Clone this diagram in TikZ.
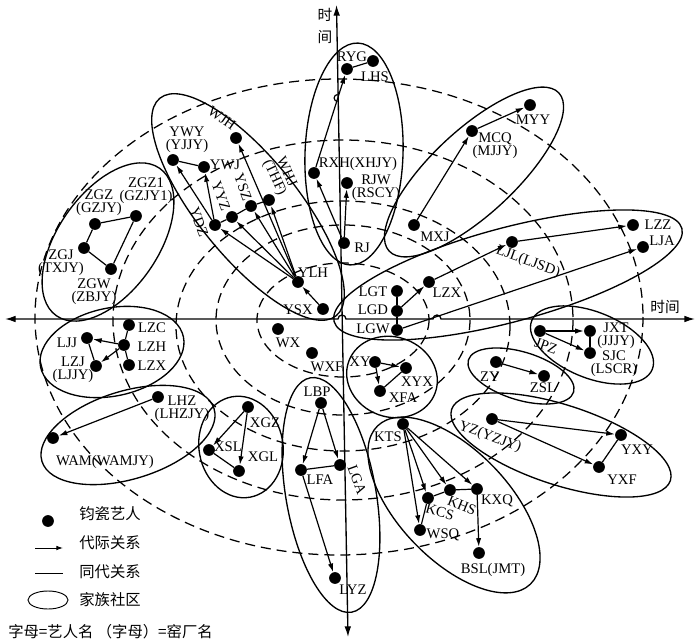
\documentclass[tikz,border=0pt]{standalone}
\usepackage{fontspec}
\setmainfont{Liberation Serif}
\newfontfamily\cjk{Noto Sans CJK SC}
\usetikzlibrary{arrows.meta,calc,shapes.geometric}
\begin{document}
\begin{tikzpicture}[x=0.75pt,y=-0.75pt,
 dot/.style={circle,fill=black,inner sep=0pt,minimum size=8.8pt},
 lbl/.style={inner sep=0pt,font=\fontsize{11}{9.8}\selectfont,align=center},
 zh/.style={inner sep=0pt,font=\cjk\fontsize{11.5}{13}\selectfont},
 arr/.style={line width=0.9pt,-{Latex[length=6.5pt,width=4pt]}},
 gen/.style={line width=0.9pt},
 fam/.style={line width=1pt},
 ring/.style={line width=0.95pt,dash pattern=on 7.5pt off 4.5pt},
 axis/.style={line width=1pt,{Latex[length=8pt,width=5pt]}-{Latex[length=8pt,width=5pt]}}]
\useasboundingbox (0,0) rectangle (700,642);

% dashed rings
\draw[ring] (343,320) ellipse [x radius=86,y radius=57];
\draw[ring] (343,320) ellipse [x radius=127,y radius=95];
\draw[ring] (343,326) ellipse [x radius=167,y radius=125];
\draw[ring] (343,320) ellipse [x radius=230,y radius=180];
\draw[ring] (339,317) ellipse [x radius=304,y radius=238];

% axes
\coordinate (hl) at (5,319); \coordinate (hr) at (695,319);
\coordinate (vt) at (336.5,5); \coordinate (vb) at (348,637);
\draw[axis] (hl) -- (338,319) arc[start angle=180,end angle=360,radius=4] -- (433,319) arc[start angle=180,end angle=360,radius=4] -- (hr);
\draw[axis] (vb) -- (vt);
\node[zh,font=\cjk\fontsize{11}{16}\selectfont,align=center] (vlab) at (325,26) {时\\间};
\node[zh,font=\cjk\fontsize{11}{13}\selectfont] (hlab) at (665,307) {时间};

% family ellipses
\draw[fam,rotate around={-2:(354,154)}] (354,154) ellipse [x radius=49,y radius=111];
\draw[fam,rotate around={-51:(248,207)}] (248,207) ellipse [x radius=140,y radius=50];
\draw[fam,rotate around={55:(108,242)}] (108,242) ellipse [x radius=90,y radius=50];
\draw[fam,rotate around={43:(474,172)}] (474,172) ellipse [x radius=116,y radius=42];
\draw[fam,rotate around={15:(508,275)}] (508,275) ellipse [x radius=180,y radius=47];
\draw[fam,rotate around={12:(112,352)}] (112,352) ellipse [x radius=73,y radius=44];
\draw[fam,rotate around={17:(128,435)}] (128,435) ellipse [x radius=90,y radius=44];
\draw[fam,rotate around={10:(241,447)}] (241,447) ellipse [x radius=42,y radius=51];
\draw[fam,rotate around={10:(331,495)}] (331,495) ellipse [x radius=45,y radius=119];
\draw[fam,rotate around={-20:(392,377)}] (392,377) ellipse [x radius=46,y radius=40];
\draw[fam,rotate around={-46:(454,505)}] (454,505) ellipse [x radius=110,y radius=55];
\draw[fam,rotate around={-18:(561,445)}] (561,445) ellipse [x radius=115,y radius=40];
\draw[fam,rotate around={-17:(521,376)}] (521,376) ellipse [x radius=55,y radius=24];
\draw[fam,rotate around={-22:(592,345)}] (592,345) ellipse [x radius=65,y radius=33];

% artists
\foreach \n/\x/\y in {RYG/347/69,LHS/373/61,RXH/314/173,RJW/347/183,RJ/344/243,
 WJH/236/138,YWY/173/160,YWJ/204/167,YDZ/215/225,YYZ/232/217,YSZ/251/206,WHJ/269/200,YLH/298/282,YSX/323/309,
 ZGZa/136/216,ZGZ/95/224,ZGJ/84/248,ZGW/111/269,
 MYY/530/105,MCQ/472/131,MXJ/414/225,
 LZZ/633/225,LJA/643/247,LJL/512/242,LZXb/429/282,LGT/397/291,LGD/397/311,LGW/397/330,
 LZC/129/325,LZH/124/345,LZX/129/365,LJJ/87/338,LZJ/96/366,
 WX/278/329,WXF/312/353,XY/375/362,XYX/406/368,XFA/380/391,
 JPZ/540/331,JXT/590/331,SJC/590/353,ZY/496/362,ZSL/544/376,
 YZ/492/419,YXY/621/435,YXF/599/467,LHZ/158/397,WAM/53/438,
 XGZ/248/407,XSL/209/450,XGL/239/471,
 LBP/321/403,LGA/340/465,LFA/301/470,LYZ/335/578,
 KTS/403/424,KCS/428/498,KHS/450/490,KXQ/477/489,WSQ/420/530,BSL/479/553}
 {\node[dot] (\n) at (\x,\y) {};}

% labels
\node[lbl] (tRYG) at (352,57) {RYG};
\node[lbl] (tLHS) at (375,77) {LHS};
\node[lbl] (tRXH) at (358,164) {RXH(XHJY)};
\node[lbl] (tRJW) at (376,188) {RJW\\(RSCY)};
\node[lbl] (tRJ) at (362,248) {RJ};
\node[lbl,rotate=-35] (tWJH) at (222,118) {WJH};
\node[lbl] (tYWY) at (187,140) {YWY\\(YJJY)};
\node[lbl] (tYWJ) at (225,165) {YWJ};
\node[lbl,rotate=-70] (tYDZ) at (199,222) {YDZ};
\node[lbl,rotate=-70] (tYYZ) at (221,196) {YYZ};
\node[lbl,rotate=-70] (tYSZ) at (243,187) {YSZ};
\node[lbl,rotate=-65] (tWHJ) at (280,175) {WHJ\\(THF)};
\node[lbl] (tYLH) at (313,273) {YLH};
\node[lbl] (tYSX) at (298,310) {YSX};
\node[lbl] (tZGZa) at (146,191) {ZGZ1\\(GZJY1)};
\node[lbl] (tZGZ) at (99,203) {ZGZ\\(GZJY)};
\node[lbl] (tZGJ) at (61,263) {ZGJ\\(TXJY)};
\node[lbl] (tZGW) at (94,292) {ZGW\\(ZBJY)};
\node[lbl] (tMYY) at (533,120) {MYY};
\node[lbl] (tMCQ) at (495,146) {MCQ\\(MJJY)};
\node[lbl] (tMXJ) at (435,237) {MXJ};
\node[lbl] (tLZZ) at (658,225) {LZZ};
\node[lbl] (tLJA) at (662,241) {LJA};
\node[lbl,rotate=-20] (tLJL) at (528,262) {LJL(LJSD)};
\node[lbl] (tLZXb) at (447,293) {LZX};
\node[lbl] (tLGT) at (373,292) {LGT};
\node[lbl] (tLGD) at (373,310) {LGD};
\node[lbl] (tLGW) at (373,329) {LGW};
\node[lbl] (tLZC) at (152,328) {LZC};
\node[lbl] (tLZH) at (152,347) {LZH};
\node[lbl] (tLZX) at (152,366) {LZX};
\node[lbl] (tLJJ) at (67,343) {LJJ};
\node[lbl] (tLZJ) at (73,370) {LZJ\\(LJJY)};
\node[lbl] (tWX) at (288,343) {WX};
\node[lbl] (tWXF) at (327,367) {WXF};
\node[lbl] (tXY) at (360,362) {XY};
\node[lbl] (tXYX) at (417,382) {XYX};
\node[lbl] (tXFA) at (403,398) {XFA};
\node[lbl,rotate=-20] (tJPZ) at (546,346) {JPZ};
\node[lbl] (tJXT) at (616,336) {JXT\\(JJJY)};
\node[lbl] (tSJC) at (614,364) {SJC\\(LSCR)};
\node[lbl] (tZY) at (490,377) {ZY};
\node[lbl] (tZSL) at (543,388) {ZSL};
\node[lbl,rotate=-20] (tYZ) at (490,437) {YZ(YZJY)};
\node[lbl] (tYXY) at (637,450) {YXY};
\node[lbl] (tYXF) at (622,480) {YXF};
\node[lbl] (tLHZ) at (182,409) {LHZ\\(LHZJY)};
\node[lbl] (tWAM) at (105,462) {WAM(WAMJY)};
\node[lbl] (tXGZ) at (265,423) {XGZ};
\node[lbl] (tXSL) at (228,447) {XSL};
\node[lbl] (tXGL) at (263,457) {XGL};
\node[lbl] (tLBP) at (317,392) {LBP};
\node[lbl,rotate=-70] (tLGA) at (357,480) {LGA};
\node[lbl] (tLFA) at (320,480) {LFA};
\node[lbl] (tLYZ) at (353,590) {LYZ};
\node[lbl] (tKTS) at (388,437) {KTS};
\node[lbl,rotate=-15] (tKCS) at (440,512) {KCS};
\node[lbl,rotate=-22] (tKHS) at (462,506) {KHS};
\node[lbl] (tKXQ) at (497,501) {KXQ};
\node[lbl] (tWSQ) at (443,535) {WSQ};
\node[lbl] (tBSL) at (493,570) {BSL(JMT)};

% intergenerational relations
\coordinate (hop1) at (337.6,98);
\draw[arr] (RXH) -- (RYG);
\draw[gen] (hop1) ++(0,-3.5) arc[start angle=270,end angle=90,radius=3.5];
\foreach \a/\b in {RJ/RJW,RJ/RXH,YSX/YLH,YLH/YDZ,YLH/YYZ,YLH/YSZ,YLH/WHJ,YLH/WJH,YDZ/YWY,YDZ/YWJ,
 MXJ/MCQ,MCQ/MYY,LGD/LZXb,LZXb/LJL,LJL/LZZ,LGW/LJA,LZH/LJJ,LZH/LZJ,XY/XYX,XY/XFA,
 JPZ/JXT,JPZ/SJC,ZY/ZSL,YZ/YXY,YZ/YXF,LHZ/WAM,XGZ/XSL,XGZ/XGL,LBP/LFA,LBP/LGA,LFA/LYZ,
 KTS/WSQ,KTS/KCS,KTS/KHS,KTS/KXQ,KXQ/BSL}
 {\draw[arr] (\a) -- (\b);}
% same-generation relations
\foreach \a/\b in {RYG/LHS,YWY/YWJ,YDZ/YYZ,YYZ/YSZ,YSZ/WHJ,ZGZ/ZGZa,ZGZa/ZGW,ZGW/ZGJ,ZGJ/ZGZ,
 LGT/LGD,LGD/LGW,LZC/LZH,LZH/LZX,LJJ/LZJ,XYX/XFA,JXT/SJC,YXF/YXY,XSL/XGL,LFA/LGA,
 KCS/KHS,KHS/KXQ,KCS/WSQ}
 {\draw[gen] (\a) -- (\b);}

% legend
\node[dot] (kdot) at (48,521) {};
\node[zh] (kdott) at (110,514) {钧瓷艺人};
\coordinate (ka1) at (35,548); \coordinate (ka2) at (63,548);
\draw[line width=0.7pt,-{Latex[length=5pt,width=3.5pt]}] (ka1) -- (ka2);
\node[zh] (kat) at (110,543) {代际关系};
\coordinate (kl1) at (35,573); \coordinate (kl2) at (63,573);
\draw[line width=0.7pt] (kl1) -- (kl2);
\node[zh] (klt) at (110,572) {同代关系};
\node[draw,ellipse,line width=0.7pt,minimum width=30pt,minimum height=13.5pt,inner sep=0pt] (kel) at (48,600) {};
\node[zh] (kelt) at (110,600) {家族社区};
\node[zh,anchor=west] (knote) at (8,632) {字母=艺人名 （字母）=窑厂名};
\end{tikzpicture}
\end{document}
